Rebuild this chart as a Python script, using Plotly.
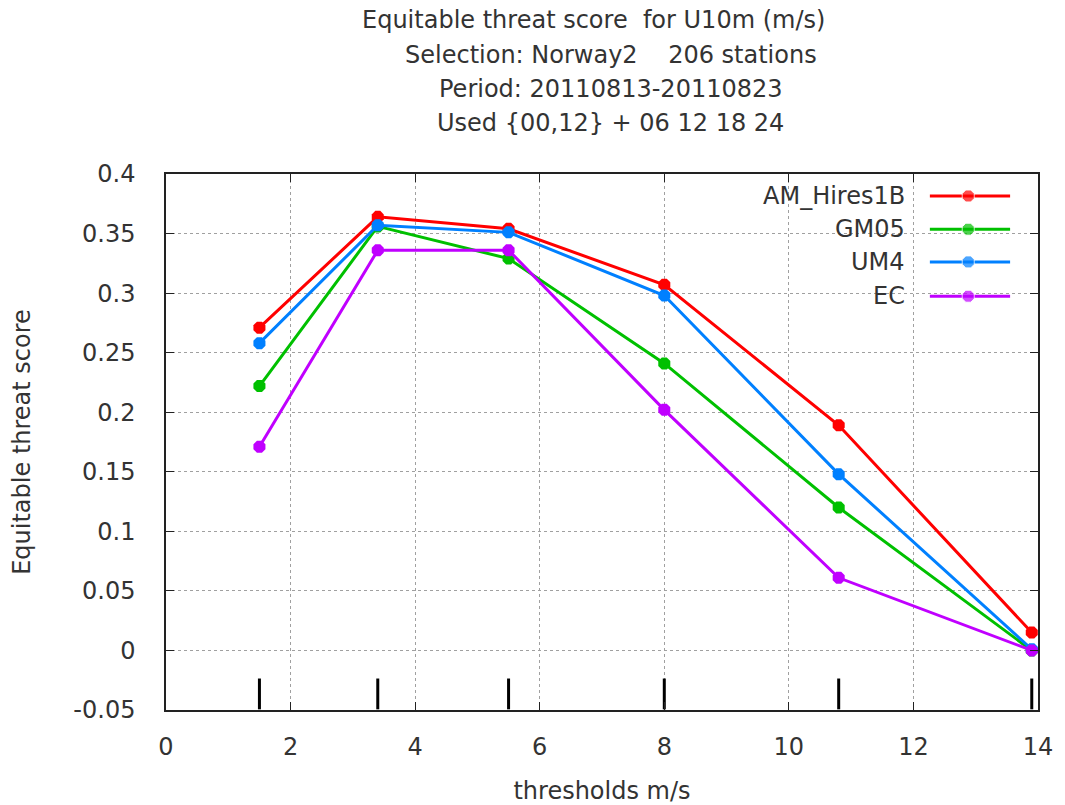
import plotly.graph_objects as go

# ---------------- data ----------------
thresholds = [1.5, 3.4, 5.5, 8.0, 10.8, 13.9]
series_names = ["AM_Hires1B", "GM05", "UM4", "EC"]
am_hires1b = [0.271, 0.364, 0.354, 0.307, 0.189, 0.015]
gm05 = [0.222, 0.356, 0.329, 0.241, 0.120, 0.000]
um4 = [0.258, 0.357, 0.351, 0.298, 0.148, 0.001]
ec = [0.171, 0.336, 0.336, 0.202, 0.061, 0.000]
series_values = [am_hires1b, gm05, um4, ec]
series_colors = ["#ff0000", "#00c000", "#0080ff", "#c000ff"]

x_tickvals = [0, 2, 4, 6, 8, 10, 12, 14]
x_ticktext = ["0", "2", "4", "6", "8", "10", "12", "14"]
y_tickvals = [-0.05, 0, 0.05, 0.1, 0.15, 0.2, 0.25, 0.3, 0.35, 0.4]
y_ticktext = ["-0.05", "0", "0.05", "0.1", "0.15", "0.2", "0.25", "0.3", "0.35", "0.4"]

title_lines = [
    "Equitable threat score\u00a0 for U10m (m/s)",
    "Selection: Norway2 \u00a0\u00a0 206 stations",
    "Period: 20110813-20110823",
    "Used {00,12} + 06 12 18 24",
]

# ---------------- style ----------------
FONT = "DejaVu Sans"
TXT = "#333333"
FS = 24
THRESH_MARK_Y = -0.0365
MSIZE = 13

fig = go.Figure()

# threshold bars
fig.add_trace(go.Scatter(
    x=thresholds, y=[THRESH_MARK_Y] * len(thresholds), mode="markers",
    marker=dict(symbol="line-ns", size=22, line=dict(width=3, color="#000000")),
    showlegend=False, hoverinfo="skip"))

for name, vals, col in zip(series_names, series_values, series_colors):
    fig.add_trace(go.Scatter(
        x=thresholds, y=vals, mode="lines+markers", name=name,
        line=dict(color=col, width=3),
        marker=dict(symbol="octagon", size=MSIZE, color=col),
        showlegend=False))

# manual gnuplot-style legend (text right, sample on the right) on an overlay axis
LEG_X0, LEG_XM, LEG_X1 = 0.876, 0.920, 0.968
LEG_TX = 0.850
LEG_ROWS = [0.959, 0.897, 0.836, 0.772]
for name, col, ry in zip(series_names, series_colors, LEG_ROWS):
    fig.add_trace(go.Scatter(
        x=[LEG_X0, LEG_XM, LEG_X1], y=[ry, ry, ry], xaxis="x2", yaxis="y2",
        mode="lines+markers", line=dict(color=col, width=3),
        marker=dict(symbol="octagon", size=[0, MSIZE, 0], color=col),
        showlegend=False, hoverinfo="skip"))
    fig.add_annotation(x=LEG_TX, y=ry, xref="paper", yref="paper", text=name,
                       showarrow=False, xanchor="right", yanchor="middle",
                       font=dict(family=FONT, size=FS, color=TXT))

# white legend box covering grid
fig.add_shape(type="rect", xref="paper", yref="paper", x0=0.658, x1=0.986, y0=0.74, y1=1.0,
              fillcolor="white", line=dict(width=0), layer="between")

# titles
title_pos = [(0.4897, 1.287), (0.5103, 1.222), (0.5103, 1.1586), (0.5103, 1.095)]
for txt, (tx, ty) in zip(title_lines, title_pos):
    fig.add_annotation(x=tx, y=ty, xref="paper", yref="paper", text=txt, showarrow=False,
                       xanchor="center", yanchor="middle",
                       font=dict(family=FONT, size=FS, color=TXT))

axis_common = dict(
    showline=True, linecolor="#222222", linewidth=1.5, mirror="allticks",
    ticks="inside", ticklen=8, tickcolor="#222222", tickwidth=1,
    showgrid=True, gridcolor="#a0a0a0", gridwidth=1, griddash="dot",
    zeroline=False, tickfont=dict(family=FONT, size=FS, color=TXT),
)

fig.update_layout(
    width=1065, height=805,
    margin=dict(l=166, r=27, t=174, b=95, autoexpand=False),
    paper_bgcolor="white", plot_bgcolor="white",
    font=dict(family=FONT, size=FS, color=TXT),
    showlegend=False,
    xaxis=dict(range=[0, 14], tickvals=x_tickvals, ticktext=x_ticktext,
               title=dict(text="thresholds m/s", standoff=24,
                          font=dict(family=FONT, size=FS, color=TXT)),
               ticklabelstandoff=14, **axis_common),
    yaxis=dict(range=[-0.05, 0.4], tickvals=y_tickvals, ticktext=y_ticktext,
               title=dict(text="Equitable threat score", standoff=36,
                          font=dict(family=FONT, size=FS, color=TXT)),
               ticklabelstandoff=24, **axis_common),
    xaxis2=dict(range=[0, 1], overlaying="x", visible=False, fixedrange=True),
    yaxis2=dict(range=[0, 1], overlaying="y", visible=False, fixedrange=True),
)

fig.write_html("out.html")
